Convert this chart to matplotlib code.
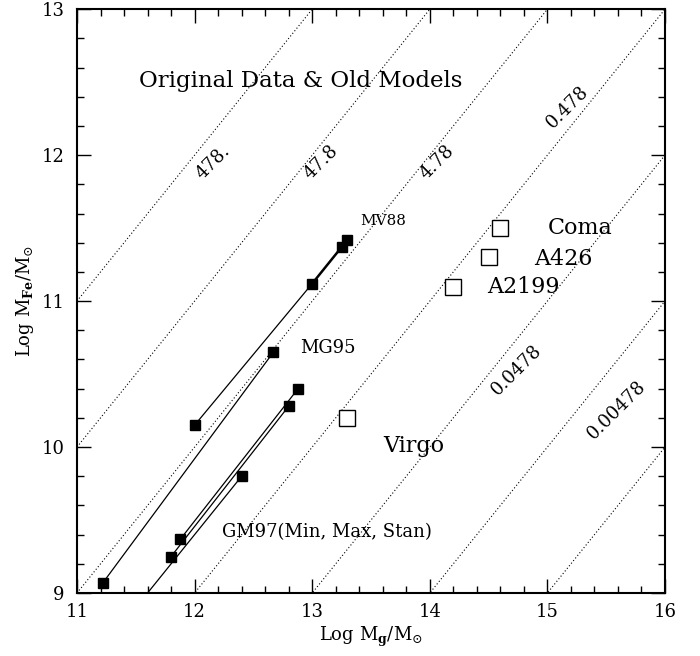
import matplotlib
matplotlib.use('Agg')
import matplotlib.pyplot as plt
from matplotlib.ticker import MultipleLocator

plt.rcParams['font.family'] = 'DejaVu Serif'
plt.rcParams['mathtext.fontset'] = 'dejavuserif'

# constant-ratio (dotted) lines: log M_Fe = log M_g + offset
ratio_offsets = [0, -1, -2, -3, -4, -5, -6]
ratio_labels = ['478.', '47.8', '4.78', '0.478', '0.0478', '0.00478']
ratio_label_x = [12.16, 13.08, 14.06, 15.17, 14.74, 15.59]
ratio_label_y = [11.95, 11.95, 11.95, 12.33, 10.53, 10.25]

# model tracks (filled squares)
mv88_x = [12.0, 13.0, 13.25, 13.3]
mv88_y = [10.15, 11.12, 11.37, 11.42]
mg95_x = [11.22, 12.67]
mg95_y = [9.07, 10.65]
gm97_min_x = [11.4, 12.4]
gm97_min_y = [8.8, 9.80]
gm97_max_x = [11.8, 12.8]
gm97_max_y = [9.25, 10.28]
gm97_stan_x = [11.88, 12.88]
gm97_stan_y = [9.37, 10.40]

# clusters (open squares)
clusters = ['Coma', 'A426', 'A2199', 'Virgo']
cluster_x = [14.6, 14.5, 14.2, 13.3]
cluster_y = [11.5, 11.3, 11.1, 10.2]
cluster_lab_x = [15.0, 14.89, 14.49, 13.6]
cluster_lab_y = [11.5, 11.29, 11.10, 10.01]

fig = plt.figure(figsize=(7, 6.56), dpi=100)
ax = fig.add_axes([0.110, 0.096, 0.840, 0.890])

xx = [11, 16]
for c in ratio_offsets:
    ax.plot(xx, [v + c for v in xx], ls=(0, (1, 2.0)), color='k', lw=0.8)
for lab, lx, ly in zip(ratio_labels, ratio_label_x, ratio_label_y):
    ax.text(lx, ly, lab, rotation=45, ha='center', va='center', fontsize=13)

# tracks
ax.plot(mv88_x[:2], mv88_y[:2], 'k-', lw=0.9)
ax.plot(mv88_x[1:], mv88_y[1:], 'k-', lw=1.8)
ax.plot(mv88_x, mv88_y, 'ks', ms=6.5, ls='none')
ax.plot(mg95_x, mg95_y, 'k-', lw=0.9, marker='s', ms=6.5)
ax.plot(gm97_min_x, gm97_min_y, 'k-', lw=0.9, marker='s', ms=6.5)
ax.plot(gm97_max_x, gm97_max_y, 'k-', lw=0.9, marker='s', ms=6.5)
ax.plot(gm97_stan_x, gm97_stan_y, 'k-', lw=0.9, marker='s', ms=6.5)

ax.plot(cluster_x, cluster_y, 's', ms=11.5, mfc='white', mec='k', mew=1.0, ls='none')
for lab, lx, ly in zip(clusters, cluster_lab_x, cluster_lab_y):
    ax.text(lx, ly, lab, ha='left', va='center', fontsize=16)

ax.text(13.41, 11.55, 'MV88', ha='left', va='center', fontsize=11)
ax.text(12.90, 10.68, 'MG95', ha='left', va='center', fontsize=13)
ax.text(12.23, 9.42, 'GM97(Min, Max, Stan)', ha='left', va='center', fontsize=13)
ax.text(12.9, 12.51, 'Original Data & Old Models', ha='center', va='center', fontsize=16.5)

ax.set_xlim(11, 16)
ax.set_ylim(9, 13)
ax.xaxis.set_major_locator(MultipleLocator(1))
ax.yaxis.set_major_locator(MultipleLocator(1))
ax.xaxis.set_minor_locator(MultipleLocator(0.2))
ax.yaxis.set_minor_locator(MultipleLocator(0.2))
ax.tick_params(which='both', direction='in', top=True, right=True, labelsize=13, width=1)
ax.tick_params(which='major', length=10)
ax.tick_params(axis='x', which='major', pad=7)
ax.tick_params(axis='y', which='major', pad=9)
ax.tick_params(which='minor', length=5)
for s in ax.spines.values():
    s.set_linewidth(1.5)

ax.set_xlabel(r'Log M$_{\mathbf{g}}$/M$_{\odot}$', fontsize=13, labelpad=3)
ax.set_ylabel(r'Log M$_{\mathbf{Fe}}$/M$_{\odot}$', fontsize=13, labelpad=4)

fig.savefig('out.png', dpi=100)
